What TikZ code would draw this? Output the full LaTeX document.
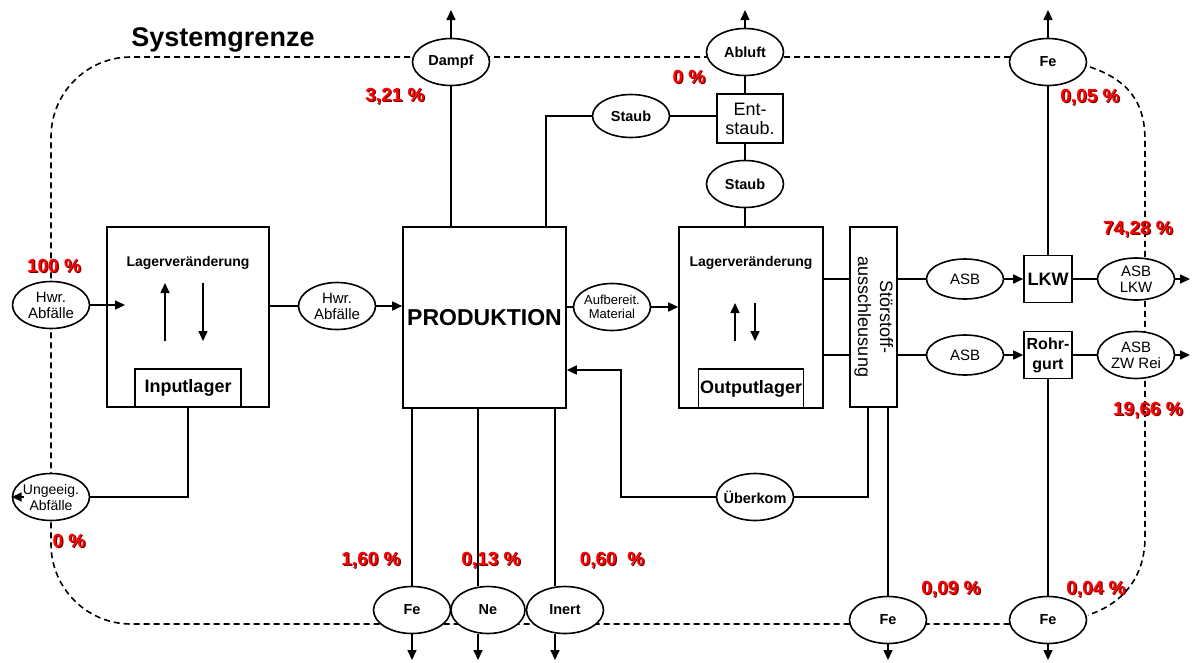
\documentclass[tikz,border=0pt]{standalone}
\usepackage{fontspec}
\setmainfont{Liberation Sans}
\usetikzlibrary{shapes.geometric,arrows.meta,positioning}

\begin{document}
\begin{tikzpicture}[x=1pt, y=-1pt, line width=1.6pt,
  ell/.style={ellipse, draw, fill=white, minimum width=77pt, minimum height=47pt, inner xsep=-6pt, inner ysep=0pt, align=center, font=\fontsize{15}{16}\selectfont},
  ellb/.style={ell, font=\fontsize{14.5}{16}\selectfont\bfseries},
  blk/.style={draw, fill=white, inner sep=0pt, align=center},
  lagtext/.style={font=\fontsize{14}{16}\selectfont\bfseries},
  pct/.style={text=red, font=\fontsize{19}{20}\selectfont\bfseries},
  pctschatten/.style={pct, text=red!45!black},
  flow/.style={-{Triangle[length=10pt, width=9pt]}},
  grenze/.style={dash pattern=on 6pt off 4pt}]

  \useasboundingbox (0,0) rectangle (1192,662);

  \draw[grenze, rounded corners=80pt] (1050,57) -- (51,57) -- (51,624) -- (1050,624);
  \draw[grenze] (1090,67) .. controls (1135,82) and (1145,110) .. (1145,140) -- (1145,537) .. controls (1145,575) and (1125,603) .. (1088,615);
  \node[font=\fontsize{27}{29}\selectfont\bfseries] (titel) at (223,40) {Systemgrenze};

  \coordinate (oben) at (0,10);
  \coordinate (unten) at (0,660);
  \coordinate (rand) at (1190,0);

  \node[ell] (hwrIn) at (51,305) {Hwr.\\Abfälle};
  \node[ell, font=\fontsize{14}{16}\selectfont] (ungeeig) at (51,497) {Ungeeig.\\Abfälle};
  \node[blk, minimum width=162pt, minimum height=180pt] (inbox) at (188,317) {};
  \node[blk, anchor=south, minimum width=106pt, minimum height=38pt, font=\fontsize{18}{20}\selectfont\bfseries] (inlager) at (inbox.south) {Inputlager};
  \node[lagtext, below=26pt of inbox.north] (inlabel) {Lagerveränderung};
  \coordinate (inArr) at (125,305);
  \draw[flow] (165,341) -- (165,283);
  \draw[flow] (203,283) -- (203,341);

  \node[ell] (hwrMid) at (337,306) {Hwr.\\Abfälle};
  \node[blk, minimum width=163pt, minimum height=181pt, font=\fontsize{23}{26}\selectfont\bfseries] (prod) at (484.5,317.5) {PRODUKTION};
  \node[ell, font=\fontsize{13}{14}\selectfont] (aufb) at (612,307) {Aufbereit.\\Material};
  \node[blk, minimum width=144pt, minimum height=181pt] (outbox) at (751,317.5) {};
  \node[blk, anchor=south, minimum width=105pt, minimum height=39pt, font=\fontsize{18}{20}\selectfont\bfseries] (outlager) at (outbox.south) {Outputlager};
  \node[lagtext, below=26pt of outbox.north] (outlabel) {Lagerveränderung};
  \draw[flow] (735,341) -- (735,303);
  \draw[flow] (755,303) -- (755,341);

  \node[blk, minimum width=47pt, minimum height=180pt, font=\fontsize{18}{22}\selectfont] (stoer) at (873.5,317) {\rotatebox{-90}{\begin{tabular}{@{}c@{}}Störstoff-\\ausschleusung\end{tabular}}};
  \node[ell, minimum height=40pt] (asb1) at (965,279) {ASB};
  \node[blk, minimum width=48pt, minimum height=47pt, font=\fontsize{18}{20}\selectfont\bfseries] (lkw) at (1048,279) {LKW};
  \node[ell, minimum height=42pt] (asbLkw) at (1136,279) {ASB\\LKW};
  \node[ell, minimum height=40pt] (asb2) at (965,355) {ASB};
  \node[blk, minimum width=48pt, minimum height=47pt, font=\fontsize{16}{20}\selectfont\bfseries] (rohr) at (1048,355) {Rohr-\\gurt};
  \node[ell] (asbZw) at (1136,355) {ASB\\ZW Rei};

  \node[ellb] (dampf) at (451,62) {Dampf};
  \node[ellb] (abluft) at (745,52) {Abluft};
  \node[blk, minimum width=66pt, minimum height=49pt, font=\fontsize{18}{19}\selectfont] (entst) at (750,118.5) {Ent-\\staub.};
  \node[ellb, minimum height=43pt] (staub1) at (631,116) {Staub};
  \node[ellb] (staub2) at (745,184) {Staub};
  \node[ellb] (feTop) at (1048,62) {Fe};

  \node[ellb] (ueberkom) at (755,497) {Überkom};
  \node[ellb] (feP) at (412,610) {Fe};
  \node[ellb, minimum width=74pt] (ne) at (488,610) {Ne};
  \node[ellb] (inert) at (565,610) {Inert};
  \node[ellb] (feS) at (888,620) {Fe};
  \node[ellb] (feR) at (1048,620) {Fe};

  \coordinate (neTop) at (478,408);
  \coordinate (inertTop) at (555,408);
  \coordinate (staubTop) at (546,227);
  \coordinate (ret) at (621,370);
  \coordinate (stoerL) at (868,407);

  \draw[flow] (hwrIn.east) -- (inArr);
  \draw (inbox.east |- hwrMid) -- (hwrMid.west);
  \draw[flow] (hwrMid.east) -- (hwrMid -| prod.west);
  \draw (aufb -| prod.east) -- (aufb.west);
  \draw[flow] (aufb.east) -- (aufb -| outbox.west);
  \draw (inlager.south) |- (ungeeig.east);
  \draw[flow] ([xshift=12pt]ungeeig.west) -- (ungeeig.west);

  \draw (dampf |- prod.north) -- (dampf.south);
  \draw[flow] (dampf.north) -- (dampf.north |- oben);
  \draw (staubTop) |- (staub1.west);
  \draw (staub1.east) -- (staub1 -| entst.west);
  \draw (abluft.south) -- (abluft |- entst.north);
  \draw[flow] (abluft.north) -- (abluft.north |- oben);
  \draw (abluft |- entst.south) -- (staub2.north);
  \draw (staub2.south) -- (staub2 |- outbox.north);

  \draw (asb1 -| outbox.east) -- (asb1 -| stoer.west);
  \draw (asb2 -| outbox.east) -- (asb2 -| stoer.west);
  \draw (asb1 -| stoer.east) -- (asb1.west);
  \draw[flow] (asb1.east) -- (lkw.west);
  \draw (lkw.east) -- (asbLkw.west);
  \draw[flow] (asbLkw.east) -- (asbLkw.east -| rand);
  \draw (asb2 -| stoer.east) -- (asb2.west);
  \draw[flow] (asb2.east) -- (rohr.west);
  \draw (rohr.east) -- (asbZw.west);
  \draw[flow] (asbZw.east) -- (asbZw.east -| rand);

  \draw (feTop.south) -- (lkw.north);
  \draw[flow] (feTop.north) -- (feTop.north |- oben);
  \draw (rohr.south) -- (feR.north);
  \draw[flow] (feR.south) -- (feR.south |- unten);
  \draw (stoerL) |- (ueberkom.east);
  \draw (feS |- stoer.south) -- (feS.north);
  \draw[flow] (feS.south) -- (feS.south |- unten);
  \draw[flow] (ueberkom.west) -| (ret) -- (ret -| prod.east);

  \draw (feP |- prod.south) -- (feP.north);
  \draw[flow] (feP.south) -- (feP.south |- unten);
  \draw (neTop) -- (neTop |- ne.north);
  \draw[flow] (neTop |- ne.south) -- (neTop |- unten);
  \draw (inertTop) -- (inertTop |- inert.north);
  \draw[flow] (inertTop |- inert.south) -- (inertTop |- unten);

  \foreach \name/\x/\y/\txt in {pDampf/395/96/{3,21 \%}, pAbluft/689/77/{0 \%},
      pFeTop/1090/97/{0,05 \%}, pInput/54/266/{100 \%}, pLkw/1138/229/{74,28 \%},
      pZw/1148/410/{19,66 \%}, pUng/69/541/{0 \%}, pFeP/371/560/{1,60 \%},
      pNe/491/560/{0,13 \%}, pInert/612/560/{0,60\ \ \%}, pFeS/951/589/{0,09 \%},
      pFeR/1096/589/{0,04 \%}}{
    \node[pctschatten] at (\x+1.2,\y+1.2) {\txt};
    \node[pct] (\name) at (\x,\y) {\txt};
  }
\end{tikzpicture}
\end{document}
